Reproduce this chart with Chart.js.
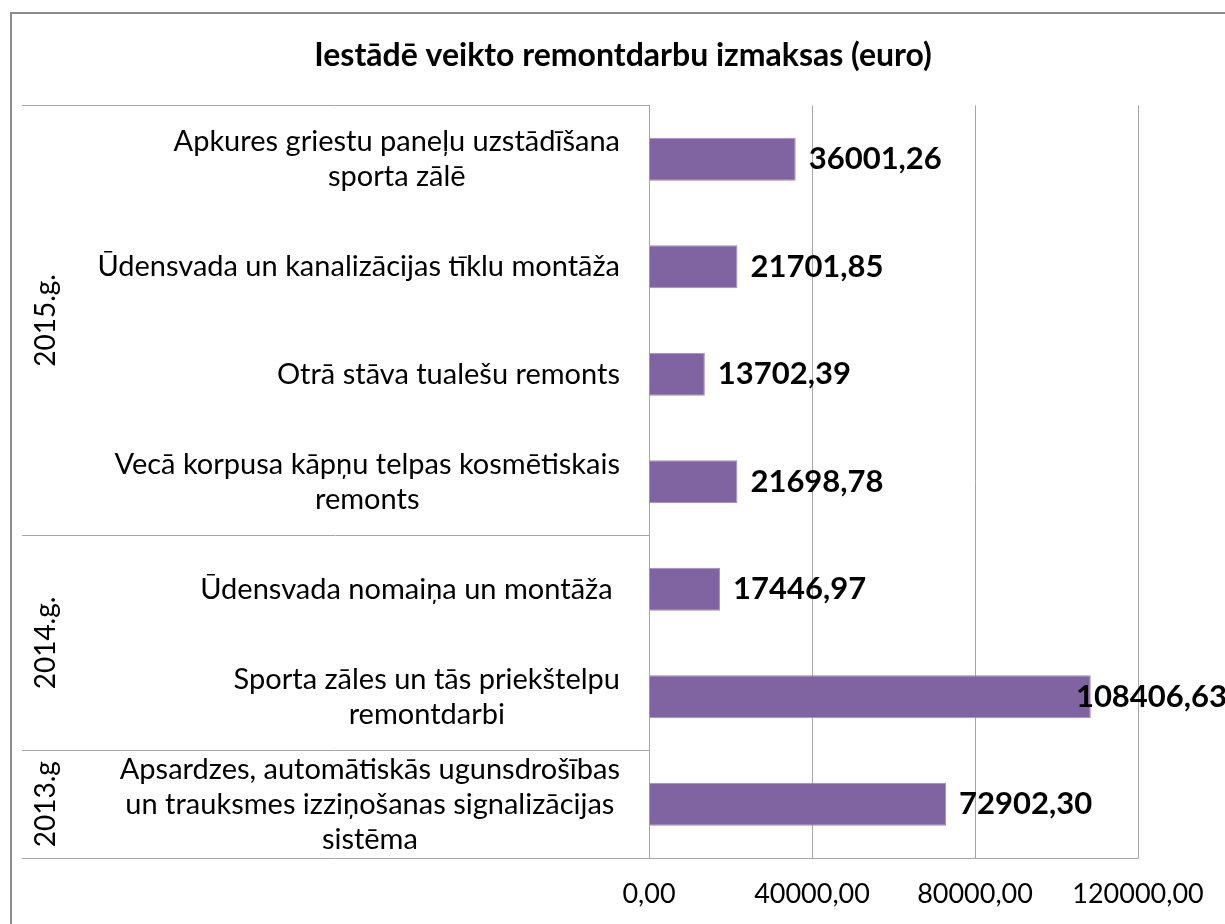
<!DOCTYPE html>
<html>
<head>
<meta charset="utf-8">
<script src="https://cdn.jsdelivr.net/npm/chart.js@4/dist/chart.umd.min.js"></script>
<style>
  html, body { margin: 0; padding: 0; background: #fff; overflow: hidden; }
  #wrap { position: absolute; left: 0; top: 0; width: 1225px; height: 924px; }
</style>
</head>
<body>
<div id="wrap"><canvas id="chart" width="1225" height="924"></canvas></div>
<script>
// Dati
const categories = [
    ['Apkures griestu paneļu uzstādīšana', 'sporta zālē'],
    ['Ūdensvada un kanalizācijas tīklu montāža'],
    ['Otrā stāva tualešu remonts'],
    ['Vecā korpusa kāpņu telpas kosmētiskais', 'remonts'],
    ['Ūdensvada nomaiņa un montāža '],
    ['Sporta zāles un tās priekštelpu', 'remontdarbi'],
    ['Apsardzes, automātiskās ugunsdrošības', 'un trauksmes izziņošanas signalizācijas', 'sistēma']
];
const costs = [36001.26, 21701.85, 13702.39, 21698.78, 17446.97, 108406.63, 72902.30];
const yearLabels = ['2015.g.', '2014.g.', '2013.g'];
const yearCounts = [4, 2, 1];
const xTicks = [0, 40000, 80000, 120000];

const FONT = 'Lato, Carlito, Calibri, sans-serif';
const LINE = '#A6A6A6';

function fmt(v) {
    return v.toFixed(2).replace('.', ',');
}

// Ārējais rāmis
const framePlugin = {
    id: 'frame',
    beforeDraw(chart) {
        const ctx = chart.ctx;
        ctx.save();
        ctx.strokeStyle = '#8C8C8C';
        ctx.lineWidth = 2;
        ctx.strokeRect(11, 13, 1400, 1000);
        ctx.restore();
    }
};

// Kategoriju teksti un gadu grupas
const labelsPlugin = {
    id: 'catLabels',
    afterDraw(chart) {
        const ctx = chart.ctx;
        const y = chart.scales.y;
        const left = chart.chartArea.left;
        ctx.save();

        // kategoriju nosaukumi
        ctx.font = '29px ' + FONT;
        ctx.fillStyle = '#000';
        ctx.textAlign = 'center';
        ctx.textBaseline = 'middle';
        const lh = 35;
        categories.forEach((lines, i) => {
            const cy = y.getPixelForTick(i);
            const w = Math.max(...lines.map(l => ctx.measureText(l).width));
            const cx = left - 29 - w / 2;
            const y0 = cy - (lines.length - 1) * lh / 2;
            lines.forEach((l, k) => ctx.fillText(l, cx, y0 + k * lh));
        });

        // gadu līnijas un teksti
        ctx.font = '28px ' + FONT;
        ctx.strokeStyle = LINE;
        ctx.lineWidth = 1;
        let start = 0;
        const top = y.getPixelForValue(-0.5);
        ctx.beginPath();
        ctx.moveTo(22, Math.round(top) + 0.5);
        ctx.lineTo(left, Math.round(top) + 0.5);
        ctx.stroke();
        yearLabels.forEach((lab, g) => {
            const a = y.getPixelForValue(start - 0.5);
            const b = y.getPixelForValue(start + yearCounts[g] - 0.5);
            ctx.beginPath();
            ctx.moveTo(22, Math.round(b) + 0.5);
            ctx.lineTo(left, Math.round(b) + 0.5);
            ctx.stroke();
            ctx.save();
            ctx.translate(46, (a + b) / 2);
            ctx.rotate(-Math.PI / 2);
            ctx.fillText(lab, 0, 0);
            ctx.restore();
            start += yearCounts[g];
        });
        ctx.restore();
    }
};

// Vērtību etiķetes
const valuePlugin = {
    id: 'values',
    afterDatasetsDraw(chart) {
        const ctx = chart.ctx;
        const meta = chart.getDatasetMeta(0);
        ctx.save();
        ctx.font = 'bold 31px ' + FONT;
        ctx.fillStyle = '#000';
        ctx.textAlign = 'left';
        ctx.textBaseline = 'middle';
        meta.data.forEach((bar, i) => {
            const txt = fmt(costs[i]);
            const w = ctx.measureText(txt).width;
            const x = Math.min(bar.x + 13, chart.width - w + 2);
            ctx.fillText(txt, x, bar.y);
        });
        ctx.restore();
    }
};

new Chart(document.getElementById('chart'), {
    type: 'bar',
    data: {
        labels: categories.map(c => c.join(' ')),
        datasets: [{
            data: costs,
            backgroundColor: '#8064A2',
            borderColor: '#A18DBF',
            borderWidth: 1,
            categoryPercentage: 1,
            barPercentage: 0.4
        }]
    },
    options: {
        indexAxis: 'y',
        responsive: false,
        animation: false,
        devicePixelRatio: 1,
        layout: { padding: { left: 108, right: 87, top: 0, bottom: 0 } },
        plugins: {
            legend: { display: false },
            tooltip: { enabled: false },
            title: {
                display: true,
                text: 'Iestādē veikto remontdarbu izmaksas (euro)',
                color: '#000',
                font: { family: FONT, size: 32, weight: 'bold', lineHeight: 1.2 },
                padding: { top: 36, bottom: 31 }
            }
        },
        scales: {
            x: {
                min: 0,
                max: 120000,
                afterBuildTicks(scale) {
                    scale.ticks = xTicks.map(v => ({ value: v }));
                },
                afterFit(scale) { scale.height = 66; },
                ticks: {
                    color: '#000',
                    font: { family: FONT, size: 27 },
                    padding: 20,
                    maxRotation: 0,
                    callback: v => fmt(v)
                },
                grid: { color: LINE, drawTicks: false },
                border: { display: true, color: LINE }
            },
            y: {
                afterFit(scale) { scale.width = 541; },
                ticks: { display: false },
                grid: { display: false },
                border: { display: true, color: LINE }
            }
        }
    },
    plugins: [framePlugin, labelsPlugin, valuePlugin]
});
</script>
</body>
</html>
